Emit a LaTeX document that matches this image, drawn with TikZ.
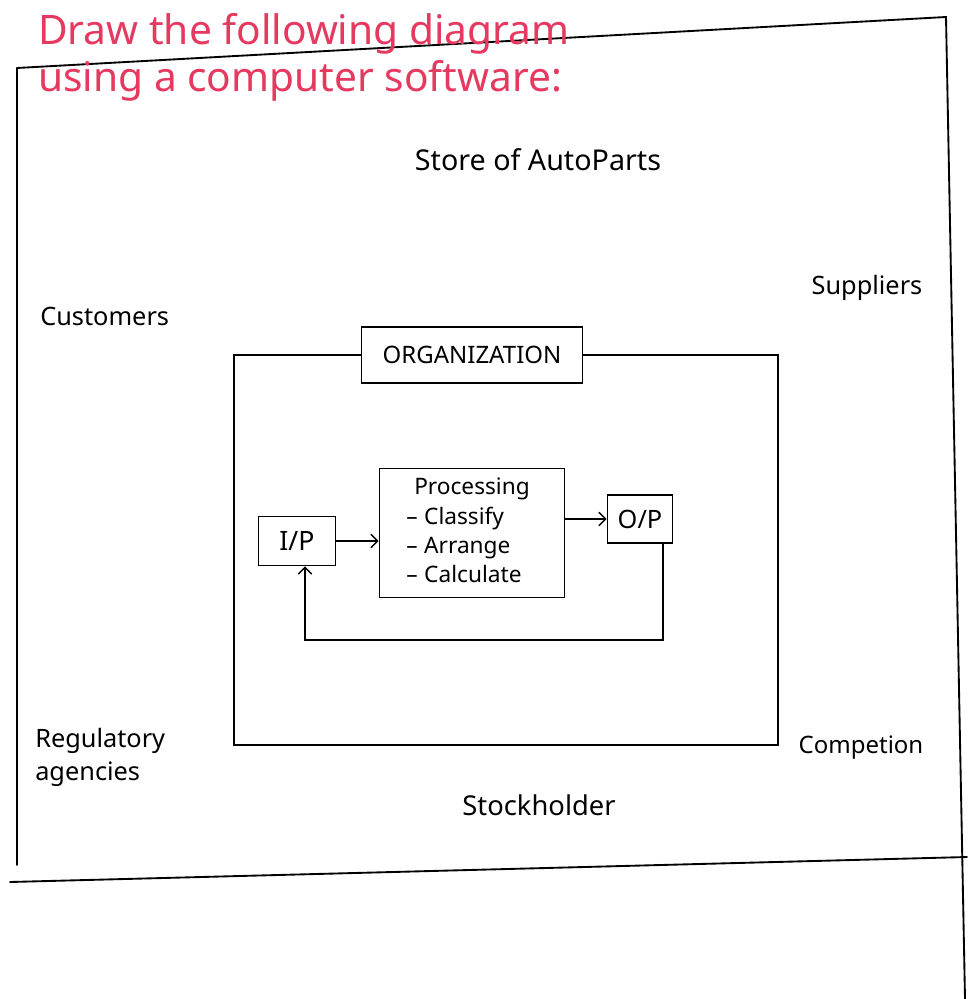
\documentclass[tikz,border=0pt]{standalone}
\usepackage{fontspec}
\setmainfont{Noto Sans}
\usetikzlibrary{arrows.meta}
\definecolor{titlered}{RGB}{229,57,96}
\begin{document}
\begin{tikzpicture}[x=0.75pt,y=-0.75pt,
  frame/.style={line width=1.4pt, black, line cap=round},
  inner/.style={line width=1.1pt, black},
  box/.style={draw, line width=1.1pt, inner sep=0pt, fill=white},
  lbl/.style={font=\fontsize{19}{25}\selectfont, inner sep=0pt},
  boxtext/.style={font=\fontsize{17}{21}\selectfont},
  flow/.style={line width=1.1pt, -{Straight Barb[length=5pt,width=10pt,line width=1.1pt]}},
  title/.style={text=titlered, font=\fontsize{30.5}{34}\selectfont, anchor=base west, inner sep=0pt}]
\useasboundingbox (0,0) rectangle (967,999);
\fill[white] (0,0) rectangle (967,999);

% outer frame (the sheet)
\coordinate (TL) at (17,68);
\coordinate (TR) at (946,17);
\coordinate (BL) at (17,865);
\coordinate (RB) at (965,999);
\coordinate (BotL) at (10,882);
\coordinate (BotR) at (967,857);
\draw[frame] (TL) -- (TR) -- (RB);
\draw[frame] (TL) -- (BL);
\draw[frame] (BotL) -- (BotR);

% title
\node[title] (t1) at (38,45) {Draw the following diagram};
\node[title] (t2) at (38,92) {using a computer software:};

% environment labels
\node[lbl, font=\fontsize{21.5}{26}\selectfont] (store) at (538,160) {Store of AutoParts};
\node[lbl, anchor=west] (cust) at (40,316) {Customers};
\node[lbl] (supp) at (867,288) {Suppliers};
\node[lbl, anchor=north west, align=left] (reg) at (35,728) {Regulatory\\agencies};
\node[lbl, font=\fontsize{18}{22}\selectfont] (comp) at (861,748) {Competion};
\node[lbl, font=\fontsize{20.5}{24}\selectfont] (stock) at (539,805) {Stockholder};

% organization boundary
\coordinate (oTL) at (234,355);
\coordinate (oBR) at (778,745);
\draw[inner] (oTL) rectangle (oBR);
\node[box, minimum width=166pt, minimum height=42pt, font=\fontsize{18}{20}\selectfont] (org) at (472,355) {ORGANIZATION};

% system
\node[box, minimum width=58pt, minimum height=37pt, font=\fontsize{20}{22}\selectfont] (ip) at (297,541) {I/P};
\node[box, minimum width=139pt, minimum height=97pt, boxtext] (proc) at (472,533)
  {\renewcommand{\arraystretch}{1.05}\begin{tabular}{@{}l@{\hspace{5pt}}l@{}}\multicolumn{2}{c}{Processing}\\
   -- & Classify\\ -- & Arrange\\ -- & Calculate\end{tabular}};
\node[box, minimum width=49pt, minimum height=36pt, font=\fontsize{19}{22}\selectfont] (op) at (640,519) {O/P};

\draw[flow] (ip.east) -- (ip.east -| proc.west);
\draw[flow] (op.west -| proc.east) -- (op.west);

\coordinate (fbR) at (663,640);
\coordinate (fbL) at (305,640);
\draw[flow] (op.south -| fbR) -- (fbR) -- (fbL) -- (ip.south -| fbL);
\end{tikzpicture}
\end{document}
